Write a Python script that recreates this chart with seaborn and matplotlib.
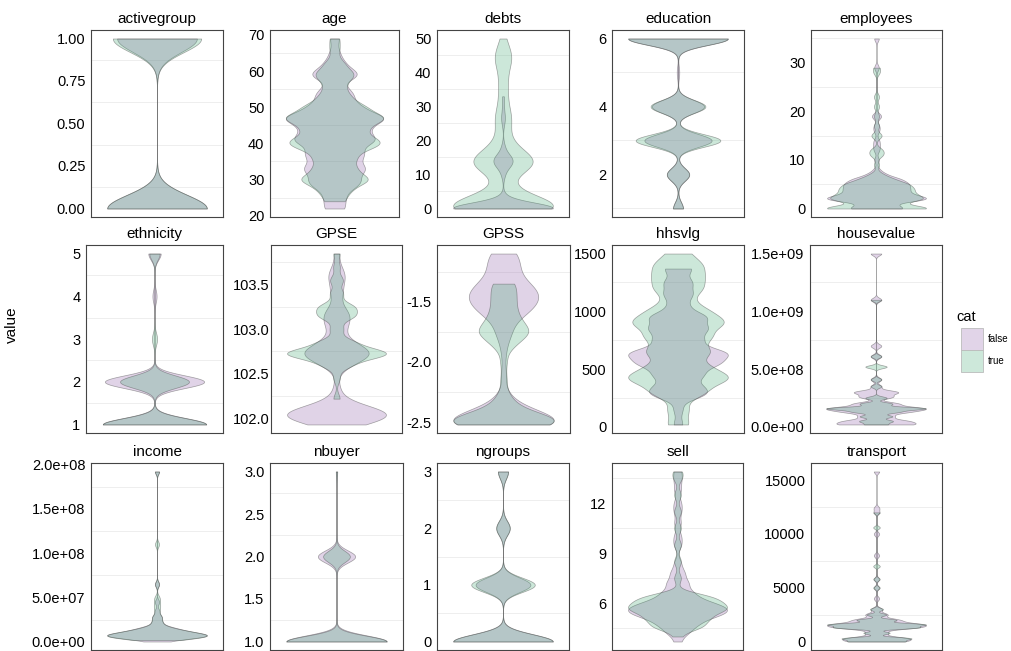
import numpy as np
import pandas as pd
import matplotlib
matplotlib.use('Agg')
import matplotlib.pyplot as plt
import seaborn as sns
from matplotlib.patches import Rectangle

# value -> count (false / true)
activegroup_false = {0: 55, 1: 44}
activegroup_true = {0: 53, 1: 47}

age_false = {22: 2, 25: 2, 28: 3, 30: 4, 33: 6, 36: 4, 38: 4, 41: 8, 44: 6, 47: 10,
             50: 5, 53: 3, 55: 2, 59: 5, 62: 2, 65: 1, 69: 1}
age_true = {24: 2, 27: 3, 30: 7, 33: 4, 36: 4, 39: 6, 41: 7, 44: 6, 47: 10, 50: 6,
            53: 3, 56: 2, 59: 4, 62: 2, 66: 1, 69: 1}

debts_false = {0: 60, 1: 10, 3: 3, 10: 2, 13: 8, 15: 8, 18: 2, 25: 1, 27: 2, 30: 1, 33: 1}
debts_true = {0: 26, 2: 9, 4: 6, 8: 3, 12: 8, 14: 11, 17: 7, 21: 3, 25: 3, 28: 3, 32: 2,
              36: 2, 40: 2, 44: 4, 47: 2, 50: 1}

education_false = {1: 4, 2: 9, 3: 27, 4: 21, 5: 1, 6: 40}
education_true = {1: 4, 2: 9, 3: 34, 4: 22, 6: 40}

employees_false = {0: 10, 1: 4, 2: 18, 3: 10, 4: 10, 5: 10, 6: 8, 7: 3, 8: 1, 10: 1, 12: 1,
                   13: 1, 14: 1, 16: 1, 17: 1, 19: 2, 29: 1, 35: 1}
employees_true = {0: 18, 1: 5, 2: 14, 3: 10, 4: 10, 5: 9, 6: 5, 7: 2, 9: 1, 11: 2, 12: 2,
                  15: 2, 17: 1, 19: 1, 21: 1, 23: 1, 28: 1, 29: 1}

ethnicity_false = {1: 50, 2: 48, 4: 2, 5: 6}
ethnicity_true = {1: 60, 2: 40, 3: 3, 5: 6}

GPSE_false = {101.93: 3, 102.0: 8, 102.05: 8, 102.1: 6, 102.2: 2, 102.35: 1, 102.6: 3,
              102.7: 6, 102.75: 6, 102.85: 4, 103.0: 2, 103.1: 3, 103.2: 3, 103.4: 2,
              103.55: 2, 103.65: 2, 103.85: 1}
GPSE_true = {102.22: 1, 102.45: 1, 102.6: 4, 102.7: 8, 102.75: 9, 102.85: 5, 103.0: 2,
             103.15: 5, 103.25: 5, 103.4: 2, 103.55: 2, 103.7: 1, 103.85: 1}

GPSS_false = {-2.52: 10, -2.48: 12, -2.4: 5, -2.3: 2, -2.1: 1, -1.9: 1, -1.75: 3, -1.6: 6,
              -1.5: 9, -1.4: 9, -1.3: 4, -1.2: 4, -1.1: 4}
GPSS_true = {-2.52: 8, -2.48: 10, -2.4: 4, -2.3: 2, -2.15: 1, -2.0: 1, -1.85: 3, -1.75: 7,
             -1.65: 4, -1.55: 3, -1.45: 3, -1.35: 3}

hhsvlg_false = {20: 1, 150: 1, 280: 5, 350: 4, 450: 5, 550: 8, 640: 10, 750: 5, 850: 6,
                950: 6, 1050: 2, 1150: 3, 1250: 3, 1370: 3}
hhsvlg_true = {20: 2, 150: 2, 300: 5, 420: 9, 520: 5, 650: 6, 780: 6, 900: 8, 1000: 5,
               1100: 2, 1200: 4, 1300: 4, 1400: 4, 1500: 2}

housevalue_false = {2e7: 6, 5e7: 5, 9e7: 3, 1.3e8: 5, 1.6e8: 8, 2.0e8: 4, 2.6e8: 3, 3.0e8: 4,
                    3.5e8: 1, 4.1e8: 1, 6.1e8: 1, 7.0e8: 1, 1.1e9: 1, 1.5e9: 1}
housevalue_true = {2e7: 2, 5e7: 3, 9e7: 3, 1.3e8: 4, 1.6e8: 9, 2.0e8: 3, 2.5e8: 2, 3.5e8: 1,
                   4.1e8: 1, 5.2e8: 2, 6.1e8: 1, 1.1e9: 1}

income_false = {5e5: 3, 5e6: 10, 8e6: 14, 1.2e7: 8, 1.6e7: 5, 2.2e7: 2, 2.8e7: 2, 3.5e7: 1,
                4.5e7: 1, 6.5e7: 1, 1.92e8: 1}
income_true = {2e6: 3, 5e6: 10, 8e6: 14, 1.2e7: 8, 1.6e7: 4, 2.2e7: 2, 2.8e7: 2, 3.5e7: 1,
               4e7: 1, 4.5e7: 1, 5e7: 1, 6.5e7: 1, 1.1e8: 1, 1.92e8: 1}

nbuyer_false = {1: 70, 2: 26, 3: 1}
nbuyer_true = {1: 75, 2: 20, 3: 1}

ngroups_false = {0: 60, 1: 33, 2: 8, 3: 6}
ngroups_true = {0: 58, 1: 37, 2: 8, 3: 6}

sell_false = {3.7: 1, 4.3: 3, 4.8: 5, 5.3: 9, 5.7: 10, 6.1: 6, 6.6: 4, 7.2: 3, 7.8: 2,
              8.4: 1, 9.5: 1, 10: 1, 10.8: 1, 11.5: 1, 12: 1, 12.8: 1, 13.4: 1, 13.9: 1}
sell_true = {4.0: 1, 4.6: 6, 5.1: 7, 5.6: 10, 6.0: 8, 6.4: 7, 7.5: 1, 8.5: 1, 9.5: 1,
             10.5: 1, 11.5: 1, 12.5: 1, 13.5: 1, 13.9: 1}

transport_false = {0: 8, 300: 10, 800: 4, 1300: 12, 1600: 14, 2000: 8, 2500: 4, 3000: 2,
                   4000: 1, 5000: 1, 5800: 1, 8000: 1, 10000: 1, 12000: 1, 12400: 1, 15800: 1}
transport_true = {0: 8, 300: 10, 800: 4, 1300: 12, 1600: 14, 2000: 6, 2500: 3, 3000: 2,
                  5000: 1, 5800: 1, 7000: 1, 10600: 1, 12000: 1}

variables = ['activegroup', 'age', 'debts', 'education', 'employees',
             'ethnicity', 'GPSE', 'GPSS', 'hhsvlg', 'housevalue',
             'income', 'nbuyer', 'ngroups', 'sell', 'transport']

tick_labels = {
    'activegroup': ['0.00', '0.25', '0.50', '0.75', '1.00'],
    'age': ['20', '30', '40', '50', '60', '70'],
    'debts': ['0', '10', '20', '30', '40', '50'],
    'education': ['2', '4', '6'],
    'employees': ['0', '10', '20', '30'],
    'ethnicity': ['1', '2', '3', '4', '5'],
    'GPSE': ['102.0', '102.5', '103.0', '103.5'],
    'GPSS': ['-2.5', '-2.0', '-1.5'],
    'hhsvlg': ['0', '500', '1000', '1500'],
    'housevalue': ['0.0e+00', '5.0e+08', '1.0e+09', '1.5e+09'],
    'income': ['0.0e+00', '5.0e+07', '1.0e+08', '1.5e+08', '2.0e+08'],
    'nbuyer': ['1.0', '1.5', '2.0', '2.5', '3.0'],
    'ngroups': ['0', '1', '2', '3'],
    'sell': ['6', '9', '12'],
    'transport': ['0', '5000', '10000', '15000'],
}

# kde bandwidth factor (times each group's sd)
bw_factor = {'activegroup': 0.16, 'age': 0.15, 'debts': 0.2, 'education': 0.12,
             'employees': 0.1, 'ethnicity': 0.15, 'GPSE': 0.16, 'GPSS': 0.15,
             'hhsvlg': 0.15, 'housevalue': 0.06, 'income': 0.1, 'nbuyer': 0.15,
             'ngroups': 0.15, 'sell': 0.12, 'transport': 0.06}

palette = {'false': '#8753a3', 'true': '#37a36b'}

W, H = 1011, 651
row_tb = [(30, 217), (245, 433), (463, 650)]
col_lr = [[(91, 223), (270, 399), (437, 569), (612, 744), (811, 942)],
          [(86, 223), (271, 402), (437, 570), (612, 744), (810, 942)],
          [(91, 223), (270, 403), (437, 569), (612, 743), (811, 942)]]

plt.rcParams['font.family'] = ['Liberation Sans', 'DejaVu Sans']
fig = plt.figure(figsize=(W / 100, H / 100), dpi=100)


def expand(d):
    return np.repeat(np.array(list(d.keys()), dtype=float), list(d.values()))


for i, name in enumerate(variables):
    r, c = divmod(i, 5)
    top, bot = row_tb[r]
    left, right = col_lr[r][c]
    ax = fig.add_axes([left / W, 1 - bot / H, (right - left) / W, (bot - top) / H])

    f = expand(globals()[name + '_false'])
    t = expand(globals()[name + '_true'])
    df = pd.DataFrame({'value': np.r_[f, t],
                       'cat': ['false'] * len(f) + ['true'] * len(t),
                       'var': name})
    sns.violinplot(data=df, x='var', y='value', hue='cat', hue_order=['false', 'true'],
                   palette=palette, dodge=False, cut=0, density_norm='width',
                   common_norm=False, bw_method=bw_factor[name], gridsize=512,
                   inner=None, saturation=1, linewidth=0.5, linecolor='#555555',
                   legend=False, ax=ax)
    for coll in ax.collections:
        fc = coll.get_facecolor()
        if len(fc):
            rgb = fc[0][:3]
            coll.set_facecolor((*rgb, 0.25))
            coll.set_edgecolor((0.3, 0.3, 0.3, 0.5))
            coll.set_linewidth(0.5)

    lo, hi = df['value'].min(), df['value'].max()
    span = hi - lo
    ax.set_xlim(-0.53, 0.53)

    labels = tick_labels[name]
    ticks = [float(s) for s in labels]
    ax.set_yticks(ticks)
    ax.set_yticklabels(labels, fontsize=10.5)
    ax.tick_params(axis='y', length=0, pad=4 if name != 'GPSE' else 1)
    ax.set_xticks([])
    ax.set_xlabel('')
    ax.set_ylabel('')

    step = ticks[1] - ticks[0]
    for m in np.arange(ticks[0] - step / 2, ticks[-1] + step, step):
        ax.axhline(m, color='#ebebeb', lw=0.6, zorder=0)
    ax.set_ylim(lo - 0.05 * span, hi + 0.05 * span)

    for sp in ax.spines.values():
        sp.set_color('#444444')
        sp.set_linewidth(0.8)
    ax.set_title(name, fontsize=11, pad=5)

fig.text(12 / W, 1 - 325 / H, 'value', rotation=90, ha='center', va='center', fontsize=11)

# legend
fig.text(956 / W, 1 - 317 / H, 'cat', ha='left', va='center', fontsize=10.5)
for k, (lab, col) in enumerate(palette.items()):
    y0 = 328 + 22 * k
    face = tuple(0.25 * np.array(matplotlib.colors.to_rgb(col)) + 0.75)
    fig.patches.append(Rectangle((961 / W, 1 - (y0 + 22) / H), 22 / W, 22 / H,
                                 transform=fig.transFigure, facecolor=face,
                                 edgecolor='#bbbbbb', lw=0.6))
    fig.text(988 / W, 1 - (y0 + 11) / H, lab, ha='left', va='center', fontsize=7)

fig.savefig('out.png', dpi=100)
